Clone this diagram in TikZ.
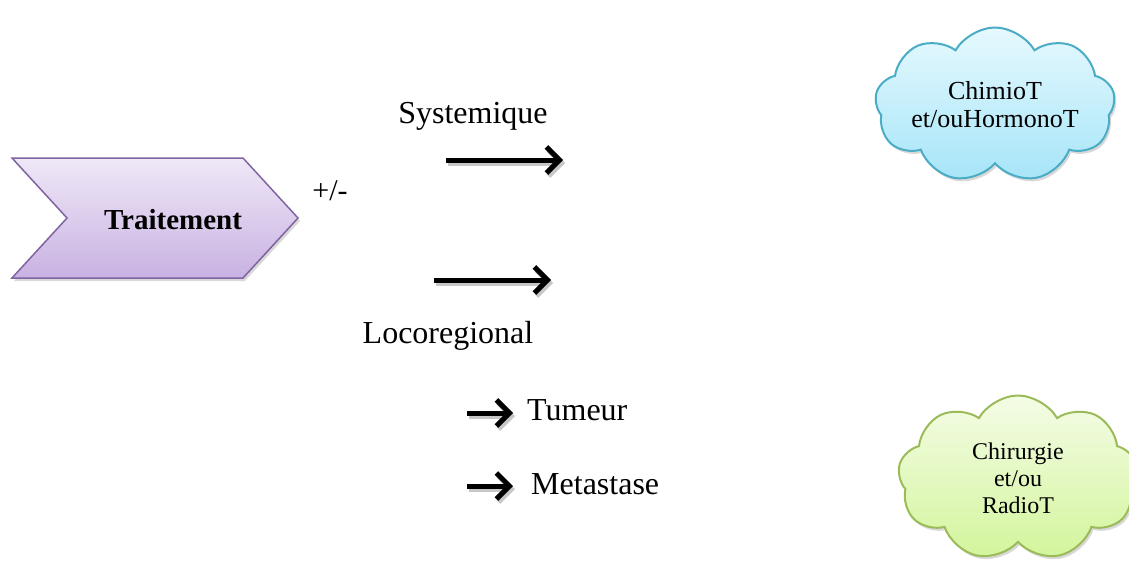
\documentclass[tikz,border=0pt]{standalone}
\usepackage{fontspec}
\setmainfont{Liberation Serif}
\usetikzlibrary{arrows.meta,shapes.symbols,shadows}

\definecolor{chevtop}{HTML}{EFE8F7}
\definecolor{chevbot}{HTML}{C8B2E2}
\definecolor{chevline}{HTML}{8064A2}
\definecolor{bluetop}{HTML}{E6F9FE}
\definecolor{bluebot}{HTML}{A6E5F8}
\definecolor{blueline}{HTML}{4BACC6}
\definecolor{greentop}{HTML}{F4FCE6}
\definecolor{greenbot}{HTML}{D3F59C}
\definecolor{greenline}{HTML}{9BBB59}

\tikzset{
  label/.style={font=\fontsize{32}{36}\selectfont, inner sep=0pt},
  bigarrow/.style={line width=5pt, -{Straight Barb[length=13pt,width=26pt]}},
  arrowshadow/.style={bigarrow, draw=black!22},
  cloudbox/.style={cloud, cloud puffs=9, cloud puff arc=120, cloud ignores aspect,
    draw, line width=2pt, align=center, inner sep=0pt,
    drop shadow={shadow xshift=2pt, shadow yshift=-3pt, fill=black!25, opacity=0.6}},
}

\begin{document}
\begin{tikzpicture}[x=1pt, y=-1pt]
\useasboundingbox (0,0) rectangle (1129,565);

% chevron
\path[draw=chevline, line width=1.5pt, top color=chevtop, bottom color=chevbot,
  drop shadow={shadow xshift=2pt, shadow yshift=-3pt, fill=black!25, opacity=0.6}]
  (12,158) -- (243,158) -- (298,218) -- (243,278) -- (12,278) -- (67,218) -- cycle;
\node[font=\bfseries\fontsize{29}{32}\selectfont, inner sep=0pt] (trait) at (173,220) {Traitement};
\node[font=\fontsize{30}{32}\selectfont, inner sep=0pt] (pm) at (330,191) {+/-};

% branch labels
\node[label] (sys) at (473,116) {Systemique};
\node[label] (loco) at (448,336) {Locoregional};

% branch arrows
\coordinate (a1s) at (446,160); \coordinate (a1e) at (563,160);
\coordinate (a2s) at (434,280); \coordinate (a2e) at (551,280);
\draw[arrowshadow] ([shift={(2,3)}]a1s) -- ([shift={(2,3)}]a1e);
\draw[bigarrow] (a1s) -- (a1e);
\draw[arrowshadow] ([shift={(2,3)}]a2s) -- ([shift={(2,3)}]a2e);
\draw[bigarrow] (a2s) -- (a2e);

% sub items
\node[label, anchor=west] (tum) at (527,410) {Tumeur};
\node[label, anchor=west] (met) at (531,484) {Metastase};
\coordinate (b1s) at (467,413); \coordinate (b2s) at (467,486);
\draw[arrowshadow] ([shift={(2,3)}]b1s) -- ([shift={(-12,3)}]tum.west |- b1s);
\draw[bigarrow] (b1s) -- ([xshift=-14pt]tum.west |- b1s);
\draw[arrowshadow] ([shift={(2,3)}]b2s) -- ([shift={(-16,3)}]met.west |- b2s);
\draw[bigarrow] (b2s) -- ([xshift=-18pt]met.west |- b2s);

% clouds
\node[cloudbox, draw=blueline, top color=bluetop, bottom color=bluebot,
  minimum width=240pt, minimum height=155pt,
  font=\fontsize{26}{28}\selectfont] (c1) at (995,105) {ChimioT\\et/ouHormonoT};
\node[cloudbox, draw=greenline, top color=greentop, bottom color=greenbot,
  minimum width=240pt, minimum height=165pt,
  font=\fontsize{24}{27}\selectfont] (c2) at (1018,478) {Chirurgie\\et/ou\\RadioT};
\end{tikzpicture}
\end{document}
